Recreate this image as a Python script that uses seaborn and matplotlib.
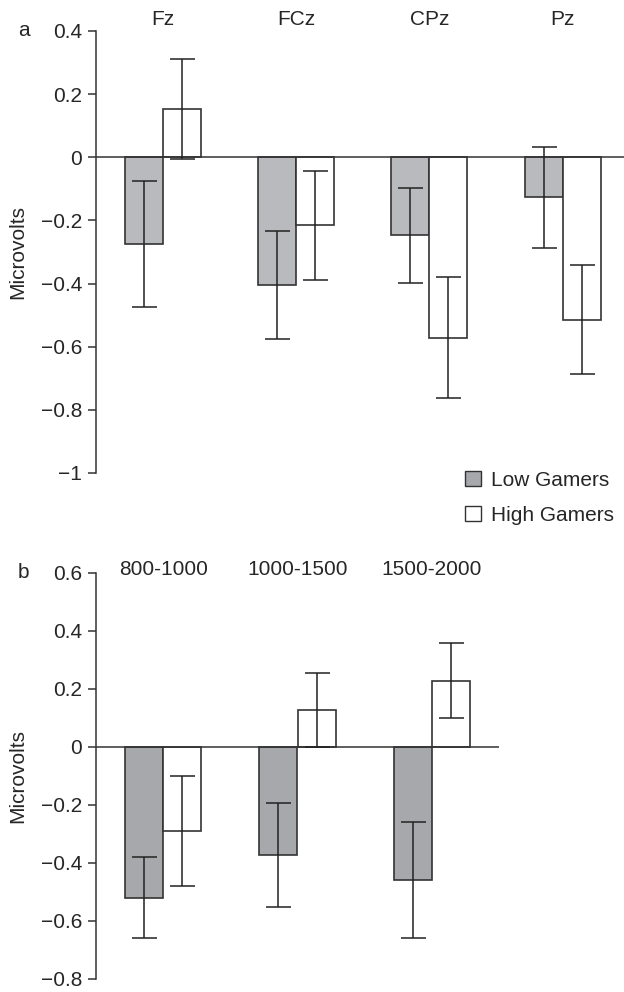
import pandas as pd
import seaborn as sns
import matplotlib.pyplot as plt
from matplotlib.patches import Patch

#%% data
sites = ['Fz', 'FCz', 'CPz', 'Pz']
low_a = [-0.275, -0.405, -0.247, -0.127]
low_a_err = [0.20, 0.17, 0.15, 0.16]
high_a = [0.152, -0.216, -0.571, -0.514]
high_a_err = [0.158, 0.172, 0.192, 0.173]

bins = ['800-1000', '1000-1500', '1500-2000']
low_b = [-0.52, -0.372, -0.46]
low_b_err = [0.14, 0.178, 0.2]
high_b = [-0.29, 0.127, 0.229]
high_b_err = [0.19, 0.128, 0.128]

groups = ['Low Gamers', 'High Gamers']

#%% style
sns.set_style('white')
plt.rcParams['font.family'] = ['Liberation Sans', 'DejaVu Sans']
plt.rcParams['axes.unicode_minus'] = True

fs = 15
dark = '#333333'
low_a_col = '#b9babd'
low_b_col = '#a7a8ab'


def fmt(v):
    s = f'{v:g}'
    return s.replace('-', '\u2212')


def panel(ax, cats, low, low_err, high, high_err, low_col, yticks, label_y):
    df = pd.DataFrame({
        'cat': cats * 2,
        'group': [groups[0]] * len(cats) + [groups[1]] * len(cats),
        'value': low + high,
    })
    sns.barplot(data=df, x='cat', y='value', hue='group', hue_order=groups,
                order=cats, palette={groups[0]: low_col, groups[1]: 'white'},
                width=0.57, errorbar=None, legend=False,
                edgecolor=dark, linewidth=1.2, saturation=1, ax=ax)
    # error bars at bar centres
    for cont, vals, errs in zip(ax.containers, [low, high], [low_err, high_err]):
        xs = [b.get_x() + b.get_width() / 2 for b in cont]
        ax.errorbar(xs, vals, yerr=errs, fmt='none', ecolor='#222222',
                    elinewidth=1.1, capsize=9, capthick=1.1, zorder=5)
    ax.axhline(0, color=dark, lw=1.1, zorder=4)
    ax.set_ylim(yticks[0], yticks[-1])
    ax.set_yticks(yticks)
    ax.set_yticklabels([fmt(v) for v in yticks])
    ax.set_xticks([])
    ax.set_xlabel('')
    ax.set_ylabel('Microvolts', fontsize=fs)
    for s in ['top', 'right', 'bottom']:
        ax.spines[s].set_visible(False)
    ax.spines['left'].set_color(dark)
    ax.spines['left'].set_linewidth(1.1)
    ax.tick_params(axis='y', left=True, length=6, width=1.1, color=dark,
                   labelsize=fs, pad=4)
    for i, c in enumerate(cats):
        ax.text(i, label_y, c, transform=ax.get_xaxis_transform(),
                ha='center', va='center', fontsize=fs)


fig = plt.figure(figsize=(6.24, 9.92), dpi=100)
ax1 = fig.add_axes([96 / 624, 1 - 473 / 992, 528 / 624, 442 / 992])
ax2 = fig.add_axes([96 / 624, 1 - 979 / 992, 403 / 624, 406 / 992])

panel(ax1, sites, low_a, low_a_err, high_a, high_a_err, low_a_col,
      [-1, -0.8, -0.6, -0.4, -0.2, 0, 0.2, 0.4], 1.025)
ax1.set_xlim(-0.5, 3.46)
ax1.yaxis.set_label_coords(-0.131, 0.5)

panel(ax2, bins, low_b, low_b_err, high_b, high_b_err, low_b_col,
      [-0.8, -0.6, -0.4, -0.2, 0, 0.2, 0.4, 0.6], 1.008)
ax2.set_xlim(-0.5, 2.5)
ax2.yaxis.set_label_coords(-0.171, 0.5)

fig.text(24 / 624, 1 - 30 / 992, 'a', fontsize=fs, ha='center', va='center')
fig.text(23 / 624, 1 - 572 / 992, 'b', fontsize=fs, ha='center', va='center')

handles = [Patch(facecolor=low_b_col, edgecolor=dark, lw=1.0),
           Patch(facecolor='white', edgecolor=dark, lw=1.0)]
fig.legend(handles, groups, loc='upper left', bbox_to_anchor=(465 / 624, 1 - 471 / 992),
           frameon=False, fontsize=15, handlelength=0.75, handleheight=0.75,
           handletextpad=0.5, labelspacing=0.75, borderpad=0, borderaxespad=0)

fig.savefig('out.png', dpi=100)
